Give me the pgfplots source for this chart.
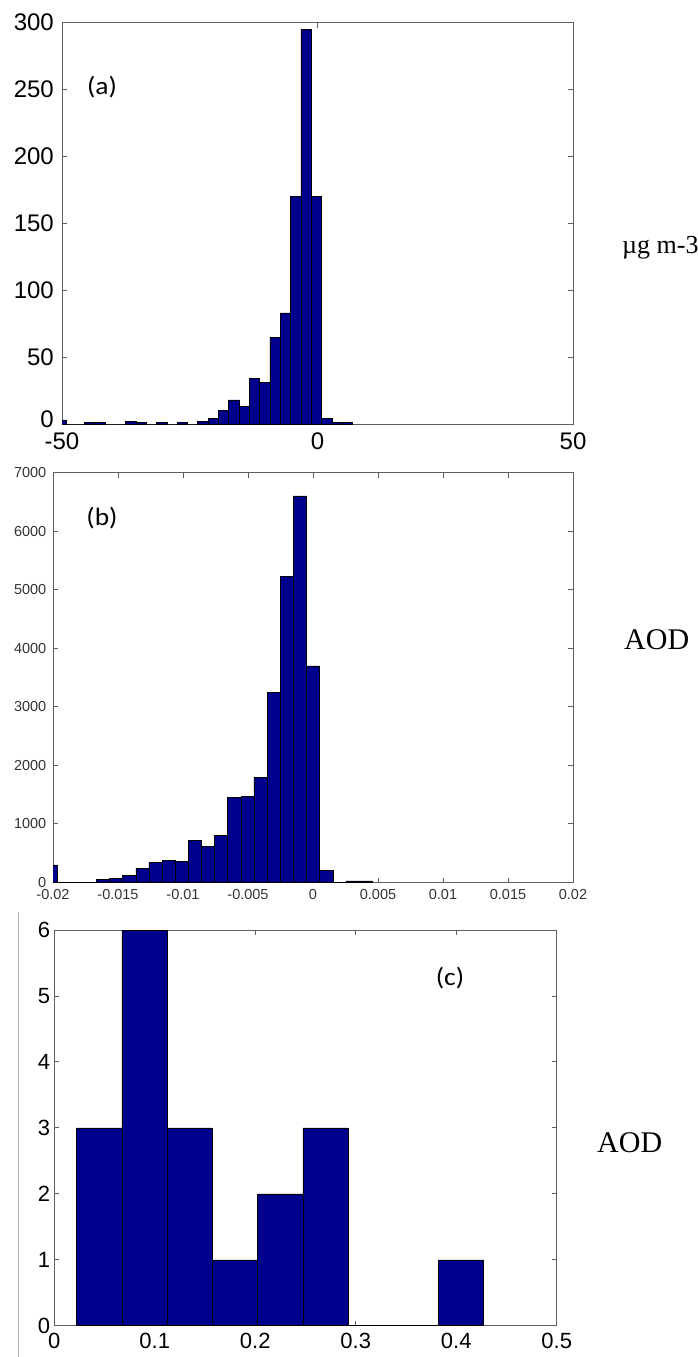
\documentclass[border=0pt]{standalone}
\usepackage{graphicx}
\usepackage{fontspec}
\usepackage{pgfplots}
\pgfplotsset{compat=1.18}
\setmainfont{Liberation Sans}
\newfontfamily\tickfont{Liberation Sans}
\newfontfamily\calib{Carlito}
\newfontfamily\timesf{Liberation Serif}
\definecolor{barblue}{RGB}{0,0,140}
\definecolor{axgray}{RGB}{95,95,95}
\pgfplotsset{
  matbox/.style={
    scale only axis, anchor=south west, clip=true,
    axis line style={draw=axgray, line width=0.9pt},
    tick style={draw=axgray, line width=0.9pt},
    tick align=inside, major tick length=5pt,
    xtick pos=both, ytick pos=both,
    scaled x ticks=false, scaled y ticks=false,
  },
  hbar/.style={ybar interval, fill=barblue, draw=black, line width=0.45pt, mark=none},
}
\begin{document}
\begin{tikzpicture}
\useasboundingbox (0,0) rectangle (697pt,-1357pt);
% ---------------- (a) ----------------
\begin{axis}[matbox, at={(62pt,-424pt)}, width=511pt, height=401.5pt,
  xmin=-50, xmax=50, ymin=0, ymax=300,
  xtick={-50,0,50}, xticklabels={-50,0,50},
  ytick={0,50,100,150,200,250,300}, yticklabels={\raisebox{-3pt}[0pt][0pt]{0},50,100,150,200,250,300},
  ticklabel style={font=\tickfont\fontsize{24}{24}\selectfont, text=black},
  xticklabel style={inner sep=0pt, yshift=-9pt},
  yticklabel style={inner sep=0pt, xshift=-8pt}]
\addplot[hbar] coordinates {
(-51,3) (-49.2,0) (-47.68,0) (-45.66,1) (-43.64,1) (-41.62,0) (-39.6,0)
(-37.58,2) (-35.56,1) (-33.54,0) (-31.52,1) (-29.5,0) (-27.48,1) (-25.46,0)
(-23.44,2) (-21.42,4) (-19.4,10) (-17.38,18) (-15.36,13) (-13.34,34)
(-11.32,31) (-9.3,65) (-7.28,83) (-5.26,170) (-3.24,295) (-1.22,170)
(0.8,4) (2.82,1) (4.84,1) (6.86,0)};
\end{axis}
% ---------------- (b) ----------------
\begin{axis}[matbox, at={(53pt,-882.5pt)}, width=520pt, height=410pt,
  xmin=-0.02, xmax=0.02, ymin=0, ymax=7000,
  xtick={-0.02,-0.015,-0.01,-0.005,0,0.005,0.01,0.015,0.02},
  xticklabels={-0.02,-0.015,-0.01,-0.005,0,0.005,0.01,0.015,0.02},
  ytick={0,1000,2000,3000,4000,5000,6000,7000},
  yticklabels={0,1000,2000,3000,4000,5000,6000,7000},
  ticklabel style={font=\tickfont\fontsize{14.5}{14.5}\selectfont, text=black!80},
  xticklabel style={inner sep=0pt, yshift=-7pt},
  yticklabel style={inner sep=0pt, xshift=-6.5pt}]
\addplot[hbar] coordinates {
(-0.0207,300) (-0.01969,0) (-0.01868,0) (-0.01767,0) (-0.01666,55)
(-0.01565,65) (-0.01464,116) (-0.01363,247) (-0.01262,350) (-0.01161,384)
(-0.0106,367) (-0.00959,725) (-0.00858,611) (-0.00757,800) (-0.00656,1450)
(-0.00555,1470) (-0.00454,1800) (-0.00353,3250) (-0.00252,5230)
(-0.00151,6600) (-0.0005,3700) (0.00051,210) (0.00152,0) (0.00253,30)
(0.00354,30) (0.00455,0)};
\end{axis}
% ---------------- (c) ----------------
\begin{axis}[matbox, at={(54.3pt,-1325.7pt)}, width=502.4pt, height=395.7pt,
  xmin=0, xmax=0.5, ymin=0, ymax=6,
  xtick={0,0.1,0.2,0.3,0.4,0.5}, xticklabels={0,0.1,0.2,0.3,0.4,0.5},
  ytick={0,1,2,3,4,5,6}, yticklabels={0,1,2,3,4,5,6},
  ticklabel style={font=\tickfont\fontsize{22}{22}\selectfont, text=black},
  xticklabel style={inner sep=0pt, yshift=-7pt},
  yticklabel style={inner sep=0pt, xshift=-4pt}]
\addplot[hbar] coordinates {
(0.0223,3) (0.0673,6) (0.1123,3) (0.1573,1) (0.2023,2) (0.2473,3)
(0.2923,0) (0.3373,0) (0.3823,1) (0.4273,0)};
\end{axis}
% panel letters
\node[inner sep=0pt] at (102pt,-87pt) {\scalebox{1.1}[1]{\calib\fontsize{25}{25}\selectfont (a)}};
\node[inner sep=0pt] at (102pt,-518pt) {\scalebox{1.1}[1]{\calib\fontsize{25}{25}\selectfont (b)}};
\node[inner sep=0pt] at (450pt,-978pt) {\scalebox{1.1}[1]{\calib\fontsize{25}{25}\selectfont (c)}};
% right-hand unit labels
\node[anchor=west, inner sep=0pt] at (622pt,-248pt) {\timesf\fontsize{26}{26}\selectfont µg m-3};
\node[anchor=west, inner sep=0pt] at (624pt,-640pt) {\timesf\fontsize{30}{30}\selectfont AOD};
\node[anchor=west, inner sep=0pt] at (597pt,-1143pt) {\timesf\fontsize{30}{30}\selectfont AOD};
% cropping edge line seen left of panel (c)
\draw[black!30, line width=0.8pt] (18.3pt,-912pt) -- (18.3pt,-1357pt);
\end{tikzpicture}
\end{document}
